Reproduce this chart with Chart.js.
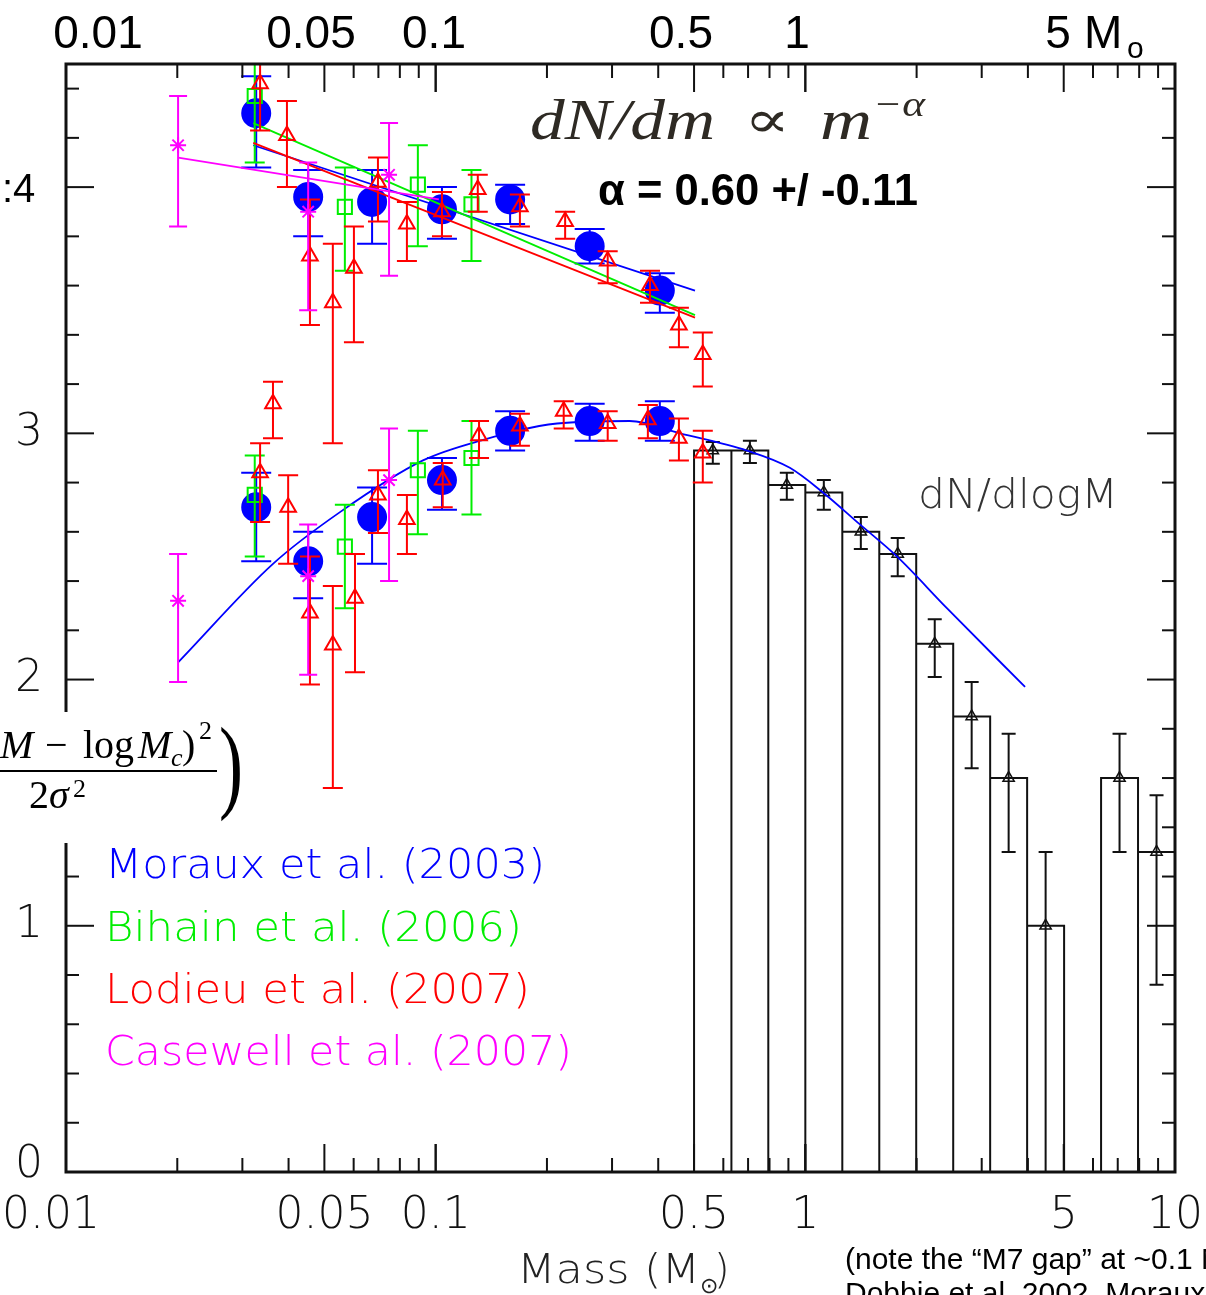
<!DOCTYPE html>
<html>
<head>
<meta charset="utf-8">
<title>Pleiades mass function</title>
<script src="https://cdn.jsdelivr.net/npm/chart.js@4.4.1/dist/chart.umd.min.js"></script>
<style>
  html, body { margin: 0; padding: 0; background: #fff; }
  #wrap { width: 1206px; height: 1295px; position: relative; }
</style>
</head>
<body>
<div id="wrap"><canvas id="imf"></canvas></div>
<script>
/* ---------- data (mass in Msun, log N) ---------- */

// Moraux et al. (2003)  - filled circles
const morauxMass  = [0.0327, 0.0452, 0.0673, 0.104, 0.159, 0.261, 0.404];
const morauxDm    = [4.30, 3.96, 3.94, 3.91, 3.95, 3.76, 3.58];
const morauxDmHi  = [4.45, 4.07, 4.07, 4.00, 4.01, 3.83, 3.65];
const morauxDmLo  = [4.08, 3.80, 3.77, 3.79, 3.85, 3.69, 3.49];
const morauxLog   = [2.70, 2.48, 2.66, 2.81, 3.01, 3.05, 3.05];
const morauxLogHi = [2.84, 2.60, 2.78, 2.90, 3.09, 3.12, 3.13];
const morauxLogLo = [2.48, 2.33, 2.47, 2.69, 2.93, 2.97, 2.97];

// Bihain et al. (2006) - open squares
const bihainMass  = [0.0324, 0.0568, 0.0895, 0.125];
const bihainDm    = [4.37, 3.92, 4.01, 3.93];
const bihainDmHi  = [4.60, 4.08, 4.17, 4.07];
const bihainDmLo  = [4.10, 3.66, 3.76, 3.70];
const bihainLog   = [2.75, 2.54, 2.85, 2.90];
const bihainLogHi = [2.91, 2.71, 3.01, 3.05];
const bihainLogLo = [2.50, 2.29, 2.59, 2.67];

// Lodieu et al. (2007) - open triangles
const lodieuDmMass = [0.0335, 0.0396, 0.0457, 0.0527, 0.0601, 0.0698, 0.0836, 0.104, 0.130, 0.169, 0.224, 0.292, 0.380, 0.455, 0.528];
const lodieuDm     = [4.42, 4.21, 3.72, 3.53, 3.67, 4.02, 3.85, 3.90, 3.99, 3.92, 3.86, 3.70, 3.60, 3.44, 3.32];
const lodieuDmHi   = [4.60, 4.35, 3.95, 3.77, 3.84, 4.12, 3.94, 3.98, 4.05, 3.97, 3.90, 3.74, 3.66, 3.51, 3.41];
const lodieuDmLo   = [4.23, 4.00, 3.44, 2.96, 3.37, 3.86, 3.70, 3.80, 3.90, 3.84, 3.79, 3.61, 3.53, 3.35, 3.19];
const lodieuLogMass = [0.0335, 0.0363, 0.0399, 0.0457, 0.0527, 0.0605, 0.0698, 0.0836, 0.1045, 0.131, 0.169, 0.222, 0.292, 0.375, 0.455, 0.528];
const lodieuLog     = [2.84, 3.12, 2.70, 2.27, 2.14, 2.33, 2.75, 2.65, 2.81, 2.99, 3.03, 3.09, 3.04, 3.055, 2.98, 2.92];
const lodieuLogHi   = [2.96, 3.21, 2.83, 2.50, 2.38, 2.51, 2.85, 2.75, 2.88, 3.05, 3.08, 3.13, 3.09, 3.115, 3.06, 3.01];
const lodieuLogLo   = [2.64, 2.98, 2.47, 1.98, 1.56, 2.03, 2.595, 2.51, 2.70, 2.90, 2.95, 3.02, 2.97, 2.98, 2.89, 2.80];

// Casewell et al. (2007) - asterisks
const casewellMass  = [0.0201, 0.0452, 0.0748];
const casewellDm    = [4.17, 3.90, 4.05];
const casewellDmHi  = [4.37, 4.10, 4.26];
const casewellDmLo  = [3.84, 3.50, 3.64];
const casewellLog   = [2.32, 2.42, 2.81];
const casewellLogHi = [2.51, 2.63, 3.02];
const casewellLogLo = [1.99, 2.02, 2.40];

// power-law fits (end points)
const fitMorauxMass = [0.0321, 0.503];   const fitMoraux = [4.17, 3.58];
const fitBihainMass = [0.0321, 0.503];   const fitBihain = [4.26, 3.48];
const fitLodieuMass = [0.0321, 0.503];   const fitLodieu = [4.18, 3.47];
const fitCasewellMass = [0.0201, 0.102]; const fitCasewell = [4.12, 3.95];

// lognormal fit
const lognMass = [0.0201, 0.0363, 0.0551, 0.0924, 0.132, 0.213, 0.335, 0.458, 0.695, 0.908, 1.116, 1.405, 1.769, 2.415, 3.93];
const lognVal  = [2.07, 2.47, 2.68, 2.89, 2.97, 3.04, 3.05, 3.00, 2.93, 2.86, 2.76, 2.63, 2.50, 2.29, 1.97];

// dN/dlogM histogram of the higher masses
const binEdges   = [0.5, 0.631, 0.794, 1.0, 1.259, 1.585, 1.995, 2.512, 3.162, 3.981, 5.012, 6.310, 7.943, 10.0];
const binHeights = [2.93, 2.93, 2.79, 2.76, 2.60, 2.51, 2.145, 1.85, 1.60, 1.00, 0, 1.60, 1.30];
const histMass = [0.562, 0.708, 0.891, 1.122, 1.413, 1.778, 2.239, 2.818, 3.548, 4.467, 7.079, 8.913];
const histVal  = [2.93, 2.93, 2.79, 2.76, 2.60, 2.51, 2.145, 1.85, 1.60, 1.00, 1.60, 1.30];
const histHi   = [2.965, 2.97, 2.84, 2.81, 2.66, 2.575, 2.245, 1.99, 1.78, 1.30, 1.78, 1.53];
const histLo   = [2.876, 2.88, 2.73, 2.69, 2.53, 2.42, 2.01, 1.64, 1.30, 0, 1.30, 0.76];

// axes
const xTickValues = [0.01, 0.05, 0.1, 0.5, 1, 5, 10];
const xTickLabels = ['0.01', '0.05', '0.1', '0.5', '1', '5', '10'];
const yTickValues = [0, 1, 2, 3];
const yTickLabels = ['0', '1', '2', '3'];
const legendLabels = ['Moraux et al. (2003)', 'Bihain et al. (2006)', 'Lodieu et al. (2007)', 'Casewell et al. (2007)'];

const BLUE = '#0000ff', GREEN = '#00ee00', RED = '#ff0000', MAGENTA = '#ff00ff', INK = '#111';
const THIN = '"DejaVu Sans"';

const pts = (xs, ys) => xs.map((x, i) => ({ x: x, y: ys[i] }));

// outline of the histogram: up, across, down for each bin
function histOutline() {
  const out = [];
  binHeights.forEach((h, i) => {
    out.push({ x: binEdges[i], y: 0 }, { x: binEdges[i], y: h }, { x: binEdges[i + 1], y: h }, { x: binEdges[i + 1], y: 0 });
  });
  return out;
}

function marks(label, xs, ys, hi, lo, color, style, radius, cap, order, fill, bw) {
  return {
    label: label, data: pts(xs, ys), showLine: false, order: order,
    borderColor: color, backgroundColor: fill || 'rgba(0,0,0,0)',
    pointStyle: style, pointRadius: radius, pointBorderWidth: bw || 2, pointHoverRadius: radius,
    errHi: hi, errLo: lo, capW: cap
  };
}
function fitLine(xs, ys, color, order, smooth) {
  return {
    data: pts(xs, ys), borderColor: color, borderWidth: 1.8, pointRadius: 0, order: order, fill: false,
    cubicInterpolationMode: smooth ? 'monotone' : 'default', tension: 0
  };
}

/* ---------- error bars, drawn under each dataset's markers ---------- */
const errorBars = {
  id: 'errorBars',
  beforeDatasetDraw(chart, args) {
    const ds = chart.data.datasets[args.index];
    if (!ds.errHi) return;
    const { ctx, chartArea: a, scales: { x, y } } = chart;
    ctx.save();
    ctx.beginPath();
    ctx.rect(a.left, a.top, a.right - a.left, a.bottom - a.top);
    ctx.clip();
    ctx.strokeStyle = ds.borderColor;
    ctx.lineWidth = 2;
    ds.data.forEach((p, i) => {
      const px = x.getPixelForValue(p.x);
      const yh = y.getPixelForValue(ds.errHi[i]);
      const yl = y.getPixelForValue(ds.errLo[i]);
      ctx.beginPath();
      ctx.moveTo(px, yh); ctx.lineTo(px, yl);
      ctx.moveTo(px - ds.capW, yh); ctx.lineTo(px + ds.capW, yh);
      ctx.moveTo(px - ds.capW, yl); ctx.lineTo(px + ds.capW, yl);
      ctx.stroke();
    });
    ctx.restore();
  }
};

/* ---------- frame with inward ticks on all four sides ---------- */
const frame = {
  id: 'frame',
  afterDatasetsDraw(chart) {
    const { ctx, chartArea: a, scales: { x, y } } = chart;
    ctx.save();
    ctx.strokeStyle = INK;
    ctx.lineWidth = 2;
    const tick = (x1, y1, x2, y2) => { ctx.beginPath(); ctx.moveTo(x1, y1); ctx.lineTo(x2, y2); ctx.stroke(); };

    [0.01, 0.1, 1].forEach(d => {
      for (let k = 1; k <= 10; k++) {
        const v = d * k;
        if (v > 10.0001) continue;
        const px = x.getPixelForValue(v);
        const len = (k === 1 || k === 5 || k === 10) ? 28 : 14;
        tick(px, a.bottom, px, a.bottom - len);
        tick(px, a.top, px, a.top + len);
      }
    });
    for (let i = 1; i <= 22; i++) {
      const v = i * 0.2;
      const py = y.getPixelForValue(v);
      const len = (i % 5 === 0) ? 28 : 13;
      tick(a.left, py, a.left + len, py);
      tick(a.right, py, a.right - len, py);
    }
    ctx.lineWidth = 3;
    ctx.strokeRect(a.left, a.top, a.right - a.left, a.bottom - a.top);
    ctx.restore();
  }
};

function fitText(ctx, str, x, y, w, font, color) {
  ctx.save();
  ctx.font = font;
  ctx.fillStyle = color;
  ctx.textAlign = 'left';
  ctx.textBaseline = 'alphabetic';
  const m = ctx.measureText(str).width;
  ctx.translate(x, y);
  ctx.scale(w / m, 1);
  ctx.fillText(str, 0, 0);
  ctx.restore();
}

/* ---------- labels, legend and slide annotations ---------- */
const annotations = {
  id: 'annotations',
  afterDraw(chart) {
    const { ctx, scales: { x, y } } = chart;
    ctx.save();
    ctx.textBaseline = 'alphabetic';

    // bottom tick labels
    ctx.font = '200 44px ' + THIN;
    ctx.fillStyle = INK;
    ctx.textAlign = 'center';
    xTickValues.forEach((v, i) => {
      const w = ctx.measureText(xTickLabels[i]).width;
      const px = i === 0 ? w / 2 + 2 : x.getPixelForValue(v);
      ctx.fillText(xTickLabels[i], px, 1228);
    });
    // left tick labels
    ctx.textBaseline = 'middle';
    yTickValues.forEach((v, i) => ctx.fillText(yTickLabels[i], 29, y.getPixelForValue(v) - (v === 0 ? 6 : 0)));

    // axis title
    ctx.textBaseline = 'alphabetic';
    ctx.textAlign = 'left';
    ctx.fillStyle = '#222';
    fitText(ctx, 'Mass (M', 517, 1283, 183, '200 40px ' + THIN, '#222');
    ctx.font = '200 22px ' + THIN;
    ctx.fillText('\u2299', 700, 1293);
    ctx.font = '200 40px ' + THIN;
    ctx.fillText(')', 714, 1283);

    // legend
    const legendColors = [BLUE, GREEN, RED, MAGENTA];
    const legendBase = [878, 941, 1003, 1065];
    const legendW = [440, 417, 425, 467];
    legendLabels.forEach((t, i) => fitText(ctx, t, 105, legendBase[i], legendW[i], '200 41px ' + THIN, legendColors[i]));

    // histogram label
    fitText(ctx, 'dN/dlogM', 918, 508, 200, '200 40px ' + THIN, '#333');

    // top labels of the slide
    ctx.font = '46px "Liberation Sans", Arial, sans-serif';
    ctx.fillStyle = '#000';
    ctx.textAlign = 'center';
    [['0.01', 98], ['0.05', 311], ['0.1', 434], ['0.5', 681], ['1', 797], ['5', 1058]].forEach(p => ctx.fillText(p[0], p[1], 48));
    ctx.textAlign = 'left';
    ctx.fillText('M', 1084, 48);
    ctx.font = '30px "Liberation Sans", Arial, sans-serif';
    ctx.fillText('o', 1127, 58);
    ctx.font = '40px "Liberation Sans", Arial, sans-serif';
    ctx.fillText(':4', 2, 202);

    // power law formula
    const dark = '#2e2a24';
    fitText(ctx, 'dN/dm', 530, 139, 185, 'italic 56px "Liberation Serif", serif', dark);
    fitText(ctx, '\u221D', 744, 137, 46, '52px "DejaVu Serif", serif', dark);
    fitText(ctx, 'm', 820, 139, 52, 'italic 56px "Liberation Serif", serif', dark);
    fitText(ctx, '\u2212\u03B1', 873, 116, 52, 'italic 36px "Liberation Serif", serif', dark);

    fitText(ctx, '\u03B1 = 0.60 +/ -0.11', 598, 205, 320, 'bold 44px "Liberation Sans", Arial, sans-serif', '#000');

    // lognormal formula fragment, on a white patch over the axis
    ctx.fillStyle = '#fff';
    ctx.fillRect(0, 712, 250, 131);
    ctx.fillStyle = '#000';
    ctx.font = 'italic 40px "Liberation Serif", serif';
    ctx.fillText('M', 0, 758);
    ctx.font = '40px "Liberation Serif", serif';
    ctx.fillText('\u2212', 45, 758);
    ctx.fillText('log', 83, 758);
    ctx.font = 'italic 40px "Liberation Serif", serif';
    ctx.fillText('M', 138, 758);
    ctx.font = 'italic 26px "Liberation Serif", serif';
    ctx.fillText('c', 171, 766);
    ctx.font = '40px "Liberation Serif", serif';
    ctx.fillText(')', 182, 758);
    ctx.font = '26px "Liberation Serif", serif';
    ctx.fillText('2', 199, 739);
    ctx.fillRect(0, 770, 217, 2);
    ctx.font = '40px "Liberation Serif", serif';
    ctx.fillText('2', 29, 808);
    ctx.font = 'italic 40px "Liberation Serif", serif';
    ctx.fillText('\u03C3', 49, 808);
    ctx.font = '26px "Liberation Serif", serif';
    ctx.fillText('2', 73, 797);
    fitText(ctx, ')', 219, 799, 24, '104px "Liberation Serif", serif', '#000');

    // footnote, cut by the page edge
    ctx.font = '30px "Liberation Sans", Arial, sans-serif';
    ctx.fillStyle = '#000';
    ctx.fillText('(note the \u201CM7 gap\u201D at ~0.1 M\u2299;', 845, 1269);
    ctx.fillText('Dobbie et al. 2002, Moraux et al. 2003)', 845, 1303);
    ctx.restore();
  }
};

const datasets = [
  marks('Casewell dN/dm', casewellMass, casewellDm, casewellDmHi, casewellDmLo, MAGENTA, 'star', 8, 9, 0),
  marks('Casewell dN/dlogM', casewellMass, casewellLog, casewellLogHi, casewellLogLo, MAGENTA, 'star', 8, 9, 0),
  marks('Lodieu dN/dm', lodieuDmMass, lodieuDm, lodieuDmHi, lodieuDmLo, RED, 'triangle', 9, 10, 1),
  marks('Lodieu dN/dlogM', lodieuLogMass, lodieuLog, lodieuLogHi, lodieuLogLo, RED, 'triangle', 9, 10, 1),
  marks('Bihain dN/dm', bihainMass, bihainDm, bihainDmHi, bihainDmLo, GREEN, 'rect', 10, 10, 2),
  marks('Bihain dN/dlogM', bihainMass, bihainLog, bihainLogHi, bihainLogLo, GREEN, 'rect', 10, 10, 2),
  marks('Moraux dN/dm', morauxMass, morauxDm, morauxDmHi, morauxDmLo, BLUE, 'circle', 14, 15, 3, BLUE),
  marks('Moraux dN/dlogM', morauxMass, morauxLog, morauxLogHi, morauxLogLo, BLUE, 'circle', 14, 15, 3, BLUE),
  fitLine(fitCasewellMass, fitCasewell, MAGENTA, 0),
  fitLine(fitLodieuMass, fitLodieu, RED, 1),
  fitLine(fitBihainMass, fitBihain, GREEN, 2),
  fitLine(fitMorauxMass, fitMoraux, BLUE, 3),
  fitLine(lognMass, lognVal, BLUE, 3, true),
  marks('dN/dlogM', histMass, histVal, histHi, histLo, INK, 'triangle', 6.5, 7, 4, null, 1.5),
  { data: histOutline(), borderColor: INK, borderWidth: 2, pointRadius: 0, order: 5, fill: false }
];

new Chart(document.getElementById('imf'), {
  type: 'line',
  data: { datasets: datasets },
  options: {
    responsive: true,
    maintainAspectRatio: false,
    animation: false,
    layout: { padding: { left: 66, right: 31, top: 64, bottom: 123 } },
    scales: {
      x: { type: 'logarithmic', min: 0.01, max: 10, display: false },
      y: { type: 'linear', min: 0, max: 4.5, display: false }
    },
    plugins: { legend: { display: false }, tooltip: { enabled: false } }
  },
  plugins: [errorBars, frame, annotations]
});
</script>
</body>
</html>
